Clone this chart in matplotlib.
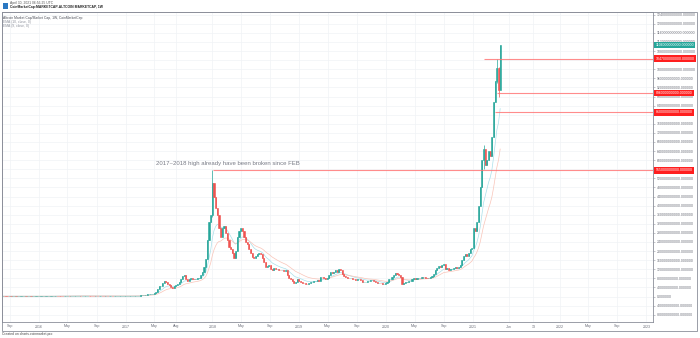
import matplotlib
matplotlib.use('Agg')
import matplotlib.pyplot as plt
import matplotlib.dates as mdates
from matplotlib.patches import Rectangle
import numpy as np
import pandas as pd

plt.rcParams['font.family'] = ['Liberation Sans', 'DejaVu Sans']

# ---------------- data (weekly closes, billions USD) ----------------
start_week = '2015-08-03'
closes_2015 = [1.5, 1.4, 1.3, 1.2, 1.2, 1.1, 1.1, 1.1, 1.0, 1.0, 1.0, 1.1, 1.1, 1.2, 1.1,
               1.1, 1.1, 1.0, 1.1, 1.1, 1.1, 1.1]
closes_2016 = [1.1, 1.1, 1.2, 1.3, 1.5, 1.7, 1.9, 2.1, 2.3, 2.7, 2.8, 2.6, 2.5, 2.3, 2.2,
               2.4, 2.5, 2.5, 2.3, 2.6, 3.0, 3.2, 3.4, 3.8, 4.0, 3.0, 3.0, 3.0, 3.1, 3.3,
               2.8, 2.6, 2.5, 2.4, 2.4, 2.3, 2.3, 2.4, 2.3, 2.2, 2.2, 2.1, 2.1, 2.1, 2.0,
               2.0, 2.1, 2.2, 2.2, 2.2, 2.3, 2.4]
closes_2017 = [2.5, 2.6, 2.6, 2.7, 2.7, 2.9, 3.0, 3.3, 3.8, 5.0, 6.5, 7.5, 8.0, 9.0, 10.5,
               11.5, 13.0, 17, 22, 32, 45, 48, 58, 68, 62, 57, 52, 44, 39, 47, 50, 55, 62,
               75, 90, 95, 78, 70, 77, 80, 79, 76, 78, 80, 82, 95, 110, 130, 165, 250,
               330, 360]
closes_2018 = [500, 440, 390, 360, 300, 260, 300, 310, 280, 250, 220, 210, 190, 170, 200,
               260, 290, 300, 290, 260, 240, 230, 210, 190, 175, 170, 180, 185, 190, 185,
               170, 150, 130, 135, 140, 120, 115, 125, 120, 120, 118, 115, 115, 113, 115,
               95, 80, 75, 70, 60, 65, 75, 70]
closes_2019 = [65, 60, 58, 57, 56, 58, 65, 66, 68, 70, 72, 70, 85, 84, 82, 78, 80, 95, 110,
               105, 110, 115, 110, 120, 115, 100, 90, 85, 82, 80, 82, 78, 75, 74, 75, 78,
               72, 65, 65, 66, 67, 70, 72, 72, 68, 62, 60, 60, 58, 56, 57, 58]
closes_2020 = [65, 75, 78, 85, 95, 105, 100, 95, 85, 55, 60, 62, 65, 68, 70, 75, 80, 78,
               80, 82, 80, 85, 84, 83, 80, 80, 85, 90, 100, 115, 125, 135, 130, 140, 145,
               120, 125, 115, 120, 120, 125, 130, 125, 130, 140, 160, 180, 185, 180, 190,
               210, 215]
closes_2021 = [300, 290, 330, 400, 480, 600, 650, 580, 600, 640, 620, 703, 857, 950, 1004,
               909, 1106]

# extra wick extremes for notable weeks
wick_weeks = ['2018-01-01', '2021-02-15', '2021-04-12', '2021-04-19']
wick_highs = [555, 668, 1047, 1010]
wick_lows = [350, 560, 940, 880]

# horizontal levels (billions) and where they start
level_values = [1047, 896, 810, 555]
level_starts = ['2021-02-15', '2021-04-12', '2021-04-05', '2018-01-04']

y_step = 40  # billions
y_tick_min, y_tick_max = -80, 1240

x_tick_dates = ['2015-09-01', '2016-01-01', '2016-05-01', '2016-09-01', '2017-01-01',
                '2017-05-01', '2017-08-01', '2018-01-01', '2018-05-01', '2018-09-01',
                '2019-01-01', '2019-05-01', '2019-09-01', '2020-01-01', '2020-05-01',
                '2020-09-01', '2021-01-01', '2021-06-01', '2021-09-13', '2022-01-01',
                '2022-05-01', '2022-09-01', '2023-01-01']
x_tick_labels = ['Sep', '2016', 'May', 'Sep', '2017', 'May', 'Aug', '2018', 'May', 'Sep',
                 '2019', 'May', 'Sep', '2020', 'May', 'Sep', '2021', 'Jun', '13', '2022',
                 'May', 'Sep', '2023']

# ---------------- build ----------------
closes = np.array(closes_2015 + closes_2016 + closes_2017 + closes_2018 +
                  closes_2019 + closes_2020 + closes_2021, dtype=float)
dates = pd.date_range(start_week, periods=len(closes), freq='W-MON')
opens = np.concatenate([[closes[0]], closes[:-1]])
highs = np.maximum(opens, closes)
lows = np.minimum(opens, closes)
idx = {d: i for i, d in enumerate(dates)}
for wd, wh, wl in zip(wick_weeks, wick_highs, wick_lows):
    i = idx[pd.Timestamp(wd)]
    highs[i] = max(highs[i], wh)
    lows[i] = min(lows[i], wl)

W, H = 700, 338
fig = plt.figure(figsize=(W / 100, H / 100), dpi=100)
fig.patch.set_facecolor('white')

L, R, T, B = 2, 653, 12, 322
ax = fig.add_axes([L / W, 1 - B / H, (R - L) / W, (B - T) / H])

up, down = '#26a69a', '#ef5350'
xs = mdates.date2num(dates)
cols = np.where(closes >= opens, up, down)
ax.vlines(xs, lows, highs, colors=cols, linewidth=0.5, zorder=3)
body_lo = np.minimum(opens, closes)
body_h = np.abs(closes - opens)
ax.bar(xs, body_h, bottom=body_lo, width=4.6, color=cols, linewidth=0.4,
       edgecolor=cols, zorder=3)

s = pd.Series(closes)
ema_a = s.ewm(span=10, adjust=False).mean().values
ema_b = s.ewm(span=20, adjust=False).mean().values
ax.plot(xs, ema_a, color='#a9e0ea', lw=0.5, zorder=2)
ax.plot(xs, ema_b, color='#f9c4b8', lw=0.5, zorder=2)

xmin = mdates.date2num(pd.Timestamp('2015-07-31'))
xmax = mdates.date2num(pd.Timestamp('2023-01-29'))
ax.set_xlim(xmin, xmax)
px_per_b = 300 / 1320.0
ax.set_ylim(-80 - (B - 314.7) / px_per_b, 1240 + (14.7 - T) / px_per_b)

# grid
yt = np.arange(y_tick_min, y_tick_max + 1, y_step)
ax.set_yticks(yt)
ax.set_xticks(mdates.date2num(pd.to_datetime(x_tick_dates)))
ax.set_xticklabels(x_tick_labels)
ax.grid(True, color='#f0f3f6', lw=0.5)
ax.set_axisbelow(True)
ax.yaxis.tick_right()
ax.yaxis.set_major_formatter(plt.FuncFormatter(
    lambda v, p: f"{int(round(v * 1e9))}.000000"))
ax.tick_params(axis='y', labelsize=2.5, colors='#9598a1', length=1.5, width=0.4, pad=1,
               labelcolor='#6a6d78')
ax.tick_params(axis='x', labelsize=2.6, length=0, pad=1.8, labelcolor='#6a6d78')
for sp in ax.spines.values():
    sp.set_color('#8a8e99')
    sp.set_linewidth(0.6)

# levels
for v, st in zip(level_values, level_starts):
    ax.hlines(v, mdates.date2num(pd.Timestamp(st)), xmax, colors='#ff7070', lw=0.8,
              alpha=0.8, zorder=4)
    ax.annotate(f"{int(v * 1e9)}.000000", xy=(1.004, v), xycoords=('axes fraction', 'data'),
                fontsize=2.5, color='white', va='center', ha='left', annotation_clip=False,
                bbox=dict(boxstyle='square,pad=0.35', fc='#ff1f1f', ec='none'), zorder=6)

last = closes[-1]
ax.annotate(f"{int(last * 1e9)}.000000", xy=(1.004, last), xycoords=('axes fraction', 'data'),
            fontsize=2.5, color='white', va='center', ha='left', annotation_clip=False,
            bbox=dict(boxstyle='square,pad=0.35', fc='#26a69a', ec='none'), zorder=6)

ax.text(mdates.date2num(pd.Timestamp('2017-05-11')), 587,
        '2017~2018 high already have been broken since FEB', fontsize=4.3,
        color='#787b86', va='center', ha='left', zorder=5)

# legend-like texts inside plot
ax.text(0.002, 0.988, 'Altcoin Market Cap/Market Cap, 1W, CoinMarketCap', transform=ax.transAxes,
        fontsize=2.4, color='#4a4d57', va='top', ha='left')
ax.text(0.002, 0.975, 'EMA (10, close, 0)', transform=ax.transAxes,
        fontsize=2.4, color='#8a8e99', va='top', ha='left')
ax.text(0.002, 0.962, 'EMA (9, close, 0)', transform=ax.transAxes,
        fontsize=2.4, color='#8a8e99', va='top', ha='left')

# header & footer
fig.text(10 / W, 1 - 3.3 / H, 'April 30, 2021 06:56:25 UTC', fontsize=2.4, color='#555',
         va='center', ha='left')
fig.text(10 / W, 1 - 7 / H, 'CoinMarketCap:MARKETCAP-ALTCOIN MARKETCAP, 1W', fontsize=2.4,
         color='#222', va='center', ha='left', fontweight='bold')
fig.patches.append(Rectangle((3 / W, 1 - 9 / H), 5 / W, 6 / H, transform=fig.transFigure,
                             fc='#2a78c2', ec='none'))
fig.text(2 / W, 1 - 334.5 / H, 'Created on charts.coinmarket.pro', fontsize=2.4, color='#444',
         va='center', ha='left')
fig.patches.append(Rectangle((L / W, 1 - 331 / H), (697 - L) / W, (331 - T) / H,
                             transform=fig.transFigure, fc='none', ec='#8a8e99', lw=0.6))

fig.savefig('out.png', dpi=100)
